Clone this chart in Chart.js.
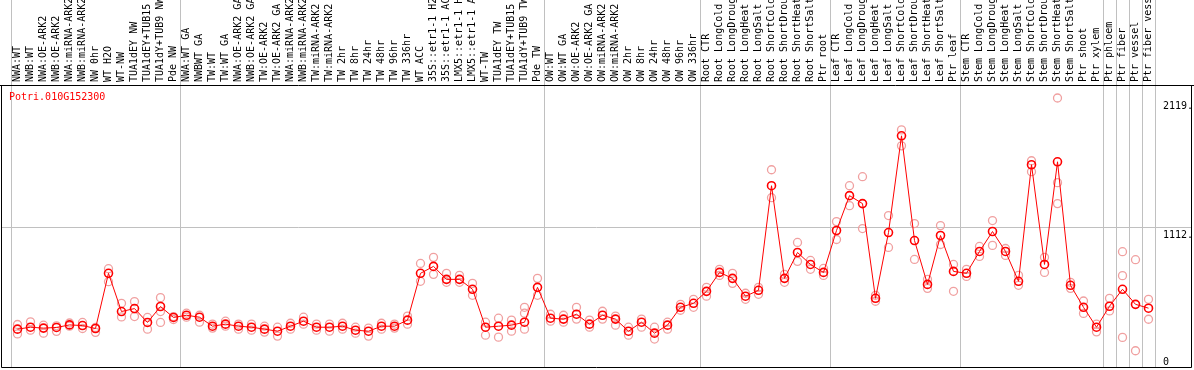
<!DOCTYPE html>
<html>
<head>
<meta charset="utf-8">
<title>Potri.010G152300</title>
<script src="https://cdn.jsdelivr.net/npm/chart.js@4.4.1/dist/chart.umd.min.js"></script>
<style>
  html, body { margin: 0; padding: 0; background: #fff; }
  #chart { display: block; }
</style>
</head>
<body>
<canvas id="chart" width="1194" height="370"></canvas>
<script>
const geneName = "Potri.010G152300";

const categories = [
    "NWA:WT", "NWB:WT", "NWA:OE-ARK2", "NWB:OE-ARK2", "NWA:miRNA-ARK2", "NWB:miRNA-ARK2", "NW 0hr", "WT H2O", "WT-NW",
    "TUA1dEY NW", "TUA1dEY+TUB15", "TUA1dY+TUB9 NW", "Pde NW",
    "NWA:WT GA", "NWBWT GA", "TW:WT", "TW:WT GA", "NWA:OE-ARK2 GA", "NWB:OE-ARK2 GA", "TW:OE-ARK2", "TW:OE-ARK2 GA",
    "NWA:miRNA-ARK2", "NWB:miRNA-ARK2", "TW:miRNA-ARK2", "TW:miRNA-ARK2", "TW 2hr", "TW 8hr", "TW 24hr", "TW 48hr",
    "TW 96hr", "TW 336hr", "WT ACC", "35S::etr1-1 H2", "35S::etr1-1 AC", "LMX5::etr1-1 H", "LMX5::etr1-1 A", "WT-TW",
    "TUA1dEY TW", "TUA1dEY+TUB15", "TUA1dY+TUB9 TW", "Pde TW",
    "OW:WT", "OW:WT GA", "OW:OE-ARK2", "OW:OE-ARK2 GA", "OW:miRNA-ARK2", "OW:miRNA-ARK2", "OW 2hr", "OW 8hr",
    "OW 24hr", "OW 48hr", "OW 96hr", "OW 336hr",
    "Root CTR", "Root LongCold", "Root LongDroug", "Root LongHeat", "Root LongSalt", "Root ShortCold", "Root ShortDrou",
    "Root ShortHeat", "Root ShortSalt", "Ptr root",
    "Leaf CTR", "Leaf LongCold", "Leaf LongDroug", "Leaf LongHeat", "Leaf LongSalt", "Leaf ShortCold", "Leaf ShortDrou",
    "Leaf ShortHeat", "Leaf ShortSalt", "Ptr leaf",
    "Stem CTR", "Stem LongCold", "Stem LongDroug", "Stem LongHeat", "Stem LongSalt", "Stem ShortCold", "Stem ShortDrou",
    "Stem ShortHeat", "Stem ShortSalt", "Ptr shoot", "Ptr xylem",
    "Ptr phloem", "Ptr fiber", "Ptr vessel", "Ptr fiber vess"
];

// mean expression per sample
const meanValues = [
    322, 337, 330, 335, 355, 350, 327, 756, 459, 482, 374, 498, 413,
    430, 415, 345, 361, 345, 337, 322, 306, 345, 384, 337, 337, 345, 314, 306, 345, 345, 392, 756, 810, 709, 709, 632, 337, 345, 353, 376, 647,
    407, 400, 438, 361, 430, 400, 306, 376, 291, 353, 492, 523,
    616, 763, 717, 578, 624, 1437, 717, 918, 825, 763,
    1089, 1360, 1298, 562, 1073, 1825, 1011, 670, 1050, 771,
    756, 926, 1081, 926, 694, 1600, 825, 1623, 663, 492, 337,
    500, 632, 515, 485
];

// individual replicates
const replicateA = [
    358, 379, 353, 348, 370, 374, 335, 792, 523, 536, 413, 567, 420,
    446, 430, 361, 384, 361, 361, 345, 337, 368, 415, 361, 361, 368, 337, 330, 368, 361, 423, 833, 880, 756, 740, 678, 376, 407, 392, 492, 717,
    438, 430, 492, 392, 461, 423, 337, 400, 337, 376, 515, 554,
    647, 787, 756, 601, 647, 1561, 748, 996, 856, 794,
    1158, 1437, 1507, 585, 1205, 1871, 1143, 709, 1127, 825,
    787, 965, 1166, 949, 740, 1631, 880, 2119, 686, 541, 361,
    562, 924, 862, 554
];
const replicateB = [
    285, 314, 291, 305, 345, 327, 297, 691, 417, 420, 322, 459, 397,
    415, 376, 330, 345, 322, 314, 299, 268, 322, 361, 314, 306, 322, 291, 268, 322, 330, 361, 694, 748, 686, 686, 585, 275, 260, 306, 446, 585,
    384, 376, 400, 337, 400, 353, 275, 337, 245, 322, 469, 492,
    578, 740, 678, 554, 593, 1344, 686, 849, 787, 740,
    1019, 1282, 1104, 539, 957, 1747, 864, 639, 980, 616,
    732, 887, 973, 895, 663, 1546, 763, 1461, 639, 444, 301,
    464, 738, 154, 399
];
const replicateC = [
    null, null, null, null, null, null, null, null, null, null, null, 374, null,
    null, null, null, null, null, null, null, null, null, null, null, null, null, null, null, null, null, null, null, null, null, null, null, null, null, null, 322, null,
    null, null, null, null, null, null, null, null, null, null, null, null,
    null, null, null, null, null, null, null, null, null, null,
    null, null, null, null, null, null, null, null, null, null,
    null, null, null, null, null, null, null, 1298, null, null, null,
    null, 258, null, null
];

// a grey separator sits before each of these sample indexes
const groupBreaks = [0, 13, 41, 53, 63, 73, 84, 85, 86, 87, 88];
const yTickLabels = [2119, 1112, 0];
const yGridValues = [1112];

function toPoints(values) {
    return values
        .map((v, i) => ({ x: i, y: v }))
        .filter(p => p.y !== null);
}

const monoFont = { family: "'DejaVu Sans Mono', monospace", size: 10 };

const framePlugin = {
    id: 'frame',
    beforeDatasetsDraw(chart) {
        const { ctx, chartArea, scales } = chart;
        ctx.save();
        ctx.strokeStyle = '#c0c0c0';
        ctx.lineWidth = 1;
        groupBreaks.forEach(k => {
            const x = Math.round(scales.x.getPixelForValue(k - 0.5)) + 0.5;
            ctx.beginPath();
            ctx.moveTo(x, 0);
            ctx.lineTo(x, chartArea.bottom);
            ctx.stroke();
        });
        ctx.restore();
    },
    afterDraw(chart) {
        const { ctx, chartArea, scales, width } = chart;
        ctx.save();
        // box around plot
        ctx.strokeStyle = '#000';
        ctx.lineWidth = 1;
        ctx.beginPath();
        ctx.moveTo(0, chartArea.top + 0.5);
        ctx.lineTo(width, chartArea.top + 0.5);
        ctx.moveTo(chartArea.left + 0.5, chartArea.top);
        ctx.lineTo(chartArea.left + 0.5, chartArea.bottom - 0.5);
        ctx.lineTo(chartArea.right - 0.5, chartArea.bottom - 0.5);
        ctx.lineTo(chartArea.right - 0.5, chartArea.top);
        ctx.stroke();

        // gene name
        ctx.font = "10px 'DejaVu Sans Mono', monospace";
        ctx.fillStyle = '#ff0000';
        ctx.textBaseline = 'middle';
        ctx.textAlign = 'left';
        ctx.fillText(geneName, chartArea.left + 8, chartArea.top + 12);

        // value labels on the right
        ctx.fillStyle = '#000';
        ctx.textBaseline = 'top';
        yTickLabels.forEach(v => {
            let y = scales.y.getPixelForValue(v) + 3;
            y = Math.min(y, chartArea.bottom - 11);
            const text = v === 0 ? '0' : v + '.';
            ctx.fillText(text, chartArea.right - 29, y);
        });
        ctx.restore();
    }
};

const ctx = document.getElementById('chart').getContext('2d');
const replicateStyle = {
    showLine: false,
    pointRadius: 4,
    pointBorderWidth: 1.3,
    pointBorderColor: '#f0a0a0',
    pointBackgroundColor: 'rgba(0,0,0,0)'
};

new Chart(ctx, {
    type: 'line',
    data: {
        datasets: [
            {
                label: 'mean',
                data: toPoints(meanValues),
                borderColor: '#ff0000',
                borderWidth: 1,
                tension: 0,
                pointRadius: 4,
                pointBorderWidth: 1.6,
                pointBorderColor: '#ff0000',
                pointBackgroundColor: 'rgba(0,0,0,0)'
            },
            Object.assign({ label: 'rep A', data: toPoints(replicateA) }, replicateStyle),
            Object.assign({ label: 'rep B', data: toPoints(replicateB) }, replicateStyle),
            Object.assign({ label: 'rep C', data: toPoints(replicateC) }, replicateStyle)
        ]
    },
    options: {
        responsive: false,
        devicePixelRatio: 1,
        animation: false,
        layout: { autoPadding: false, padding: { left: 1, right: 2, top: 0, bottom: 2 } },
        plugins: {
            legend: { display: false },
            tooltip: { enabled: false }
        },
        scales: {
            x: {
                type: 'linear',
                position: 'top',
                // 13px per sample, first sample centre 17px from the left edge
                min: -1.2692,
                max: 90.346,
                grid: { display: false, drawTicks: false },
                border: { display: false },
                afterBuildTicks: axis => {
                    axis.ticks = categories.map((c, i) => ({ value: i }));
                },
                afterFit: axis => {
                    axis.height = 85;
                    axis.paddingLeft = 0;
                    axis.paddingRight = 0;
                },
                ticks: {
                    autoSkip: false,
                    minRotation: 90,
                    maxRotation: 90,
                    padding: 3,
                    labelOffset: 12,
                    color: '#000',
                    font: monoFont,
                    callback: value => categories[value]
                }
            },
            y: {
                position: 'right',
                min: 20,
                max: 2220,
                grid: { color: '#c0c0c0', lineWidth: 1, drawTicks: false },
                border: { display: false },
                ticks: { display: false },
                afterBuildTicks: axis => {
                    axis.ticks = yGridValues.map(v => ({ value: v }));
                },
                afterFit: axis => {
                    axis.width = 0;
                    axis.paddingTop = 0;
                    axis.paddingBottom = 0;
                }
            }
        }
    },
    plugins: [framePlugin]
});
</script>
</body>
</html>
